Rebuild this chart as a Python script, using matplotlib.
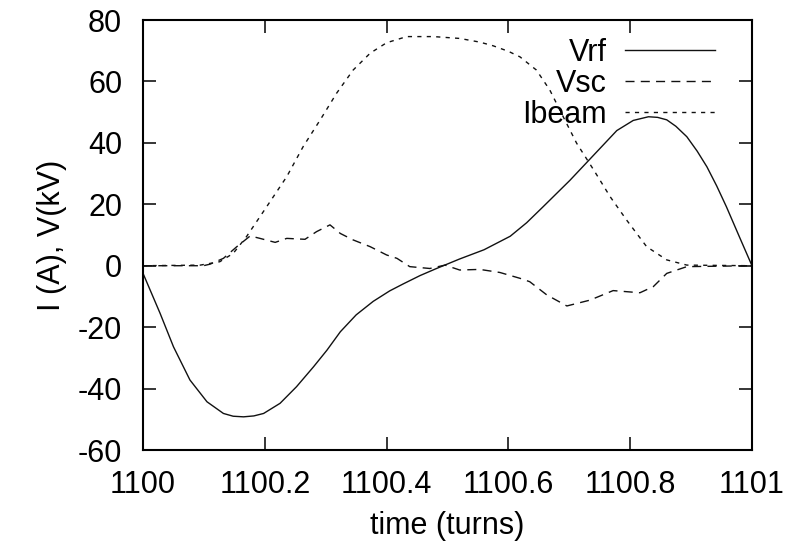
import numpy as np
import matplotlib
matplotlib.use("Agg")
import matplotlib.pyplot as plt

# values (time offset from 1100 turns)
t_vrf = 1100 + np.array([0, 0.014, 0.028, 0.05, 0.077, 0.105, 0.132, 0.148, 0.165, 0.182,
                         0.198, 0.225, 0.252, 0.28, 0.302, 0.324, 0.35, 0.378, 0.405, 0.4275,
                         0.455, 0.482, 0.52, 0.56, 0.603, 0.63, 0.657, 0.701, 0.74, 0.778,
                         0.805, 0.83, 0.845, 0.86, 0.875, 0.893, 0.91, 0.926, 0.942, 0.958,
                         0.98, 1.0])
vrf = [-2.5, -9.0, -15.5, -26.4, -37.2, -44.3, -48.1, -49.0, -49.2, -48.9,
       -48.1, -44.8, -39.4, -32.9, -27.5, -21.5, -16.0, -11.6, -8.2, -5.9,
       -3.2, -0.9, 2.2, 5.2, 9.6, 14.0, 19.2, 27.8, 36.0, 44.0,
       47.3, 48.5, 48.3, 47.5, 45.4, 42.0, 37.3, 32.2, 26.0, 19.2,
       9.1, 0]

t_vsc = 1100 + np.array([0, 0.099, 0.11, 0.132, 0.154, 0.176, 0.192, 0.217, 0.236, 0.266,
                         0.285, 0.307, 0.324, 0.345, 0.373, 0.4, 0.417, 0.438, 0.471, 0.496,
                         0.52, 0.553, 0.586, 0.619, 0.635, 0.663, 0.696, 0.734, 0.772, 0.816,
                         0.838, 0.86, 0.893, 1.0])
vsc = [0, 0, 0.5, 2.4, 6.2, 9.7, 8.9, 7.6, 8.9, 8.6,
       11.1, 13.3, 10.5, 8.4, 6.2, 3.5, 2.4, -0.3, -0.9, 0.2,
       -1.4, -1.2, -2.2, -4.1, -5.2, -9.5, -13.1, -11.2, -8.1, -8.8,
       -6.8, -2.5, -0.3, 0]

t_ibeam = 1100 + np.array([0, 0.094, 0.126, 0.148, 0.17, 0.203, 0.236, 0.263, 0.291, 0.318,
                           0.345, 0.373, 0.4, 0.433, 0.477, 0.52, 0.553, 0.575, 0.6, 0.619,
                           0.646, 0.668, 0.69, 0.712, 0.74, 0.767, 0.794, 0.827, 0.86, 0.893, 1.0])
ibeam = [0, 0.2, 1.3, 4.0, 9.5, 19.2, 29.0, 38.8, 47.5, 56.2,
         63.7, 69.2, 72.6, 74.6, 74.6, 74.0, 72.8, 71.6, 69.8, 68.0,
         63.7, 57.2, 48.5, 39.9, 31.2, 22.5, 14.9, 6.2, 1.9, 0.2, 0]

xticks = [1100, 1100.2, 1100.4, 1100.6, 1100.8, 1101]
xtick_labels = ["1100", "1100.2", "1100.4", "1100.6", "1100.8", "1101"]
yticks = [-60, -40, -20, 0, 20, 40, 60, 80]

plt.rcParams['font.family'] = ['Liberation Sans', 'DejaVu Sans']
plt.rcParams['axes.unicode_minus'] = False

fig = plt.figure(figsize=(7.96, 5.45), dpi=100)
ax = fig.add_axes([0.1797, 0.1743, 0.765, 0.789])

ax.plot(t_vrf, vrf, color='#111111', lw=1.0, label='Vrf')
ax.plot(t_vsc, vsc, color='#111111', lw=1.0, dashes=(6.5, 4.5), label='Vsc')
ax.plot(t_ibeam, ibeam, color='#111111', lw=1.0, dashes=(3, 3.8), label='Ibeam')

ax.set_xlim(1100, 1101)
ax.set_ylim(-60, 80)
ax.set_xticks(xticks)
ax.set_xticklabels(xtick_labels)
ax.set_yticks(yticks)

ax.tick_params(direction='in', length=9.5, width=1.1, top=True, right=True, labelsize=22)
ax.tick_params(axis='x', pad=14.5)
ax.tick_params(axis='y', pad=15)
for s in ax.spines.values():
    s.set_linewidth(1.5)

ax.set_xlabel('time (turns)', fontsize=22, labelpad=8)
ax.set_ylabel('I (A), V(kV)', fontsize=22, labelpad=8)

ax.legend(loc='upper right', bbox_to_anchor=(0.967, 0.998), frameon=False,
          markerfirst=False, fontsize=22, handlelength=2.94, handletextpad=0.59,
          labelspacing=0.04, borderaxespad=0.15)

fig.savefig('out.png', dpi=100)
